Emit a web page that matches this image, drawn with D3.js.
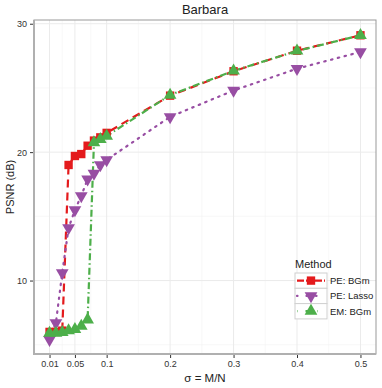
<!DOCTYPE html>
<html>
<head>
<meta charset="utf-8">
<script src="https://cdn.jsdelivr.net/npm/d3@7"></script>
<style>
  body { margin: 0; background: #fff; }
  text { font-family: "Liberation Sans", Arial, sans-serif; }
</style>
</head>
<body>
<svg width="382" height="388"></svg>
<script>
var sigma = [0.01, 0.02, 0.03, 0.04, 0.05, 0.06, 0.07, 0.08, 0.09, 0.1, 0.2, 0.3, 0.4, 0.5];
var peBGm = [6.0, 6.0, 6.1, 19.0, 19.7, 19.85, 20.5, 20.9, 21.15, 21.5, 24.4, 26.3, 27.9, 29.1];
var peLasso = [5.4, 6.7, 10.6, 14.1, 15.5, 16.6, 17.9, 18.35, 19.0, 19.4, 22.75, 24.8, 26.5, 27.8];
var emBGm = [5.9, 5.9, 5.97, 6.1, 6.2, 6.45, 6.95, 20.75, 21.0, 21.25, 24.45, 26.33, 27.88, 29.1];
var xTicks = [0.01, 0.05, 0.1, 0.2, 0.3, 0.4, 0.5];
var xMinor = [0.03, 0.075, 0.15, 0.25, 0.35, 0.45];
var yTicks = [10, 20, 30];
var yMinor = [5, 15, 25];
var methods = ["PE: BGm", "PE: Lasso", "EM: BGm"];

var series = [
  {name: methods[0], values: peBGm, color: "#E41A1C", dash: "8,5", shape: "square"},
  {name: methods[1], values: peLasso, color: "#984EA3", dash: "1.5,5.5", shape: "down"},
  {name: methods[2], values: emBGm, color: "#4DAF4A", dash: "7,3,1.5,3", shape: "up"}
];

var svg = d3.select("svg"),
    pL = 34, pR = 376, pT = 20, pB = 354;

var x = d3.scaleLinear().domain([-0.0145, 0.5245]).range([pL, pR]);
var y = d3.scaleLinear().domain([4.28, 30.29]).range([pB, pT]);

svg.append("rect").attr("x", pL).attr("y", pT)
    .attr("width", pR - pL).attr("height", pB - pT).attr("fill", "#fff");

// grid
var grid = svg.append("g");
grid.selectAll(".xm").data(xMinor).enter().append("line")
    .attr("x1", x).attr("x2", x).attr("y1", pT).attr("y2", pB)
    .attr("stroke", "#f4f4f4").attr("stroke-width", 0.6);
grid.selectAll(".ym").data(yMinor).enter().append("line")
    .attr("y1", y).attr("y2", y).attr("x1", pL).attr("x2", pR)
    .attr("stroke", "#f4f4f4").attr("stroke-width", 0.6);
grid.selectAll(".xM").data(xTicks).enter().append("line")
    .attr("x1", x).attr("x2", x).attr("y1", pT).attr("y2", pB)
    .attr("stroke", "#ebebeb").attr("stroke-width", 1);
grid.selectAll(".yM").data(yTicks).enter().append("line")
    .attr("y1", y).attr("y2", y).attr("x1", pL).attr("x2", pR)
    .attr("stroke", "#ebebeb").attr("stroke-width", 1);

// border
svg.append("rect").attr("x", pL).attr("y", pT)
    .attr("width", pR - pL).attr("height", pB - pT)
    .attr("fill", "none").attr("stroke", "#999").attr("stroke-width", 1);
svg.append("path").attr("d", "M" + pL + "," + pT + "V" + pB + "H" + pR)
    .attr("fill", "none").attr("stroke", "#b0b0b0").attr("stroke-width", 2);

// axes
var xAxis = svg.append("g").attr("transform", "translate(0," + (pB + 1) + ")")
    .call(d3.axisBottom(x).tickValues(xTicks).tickFormat(d3.format("")).tickSize(3).tickPadding(3));
var yAxis = svg.append("g").attr("transform", "translate(" + (pL - 1) + ",0)")
    .call(d3.axisLeft(y).tickValues(yTicks).tickSize(3).tickPadding(3));
[xAxis, yAxis].forEach(function(a) {
  a.select(".domain").remove();
  a.selectAll("line").attr("stroke", "#333");
  a.selectAll("text").attr("fill", "#333").style("font-size", "9px")
      .style("font-family", "'Liberation Sans', Arial, sans-serif");
});

// lines
var line = d3.line()
    .x(function(d, i) { return x(sigma[i]); })
    .y(function(d) { return y(d); });

svg.append("g").selectAll("path").data(series).enter().append("path")
    .attr("d", function(d) { return line(d.values); })
    .attr("fill", "none")
    .attr("stroke", function(d) { return d.color; })
    .attr("stroke-width", 2.2)
    .attr("stroke-linecap", function(d) { return d.shape == "down" ? "round" : "butt"; })
    .attr("stroke-dasharray", function(d) { return d.dash; });

function symbolPath(shape) {
  if (shape == "square") return d3.symbol().type(d3.symbolSquare).size(70)();
  return d3.symbol().type(d3.symbolTriangle).size(70)();
}

// points
series.forEach(function(s) {
  svg.append("g").selectAll("path").data(s.values).enter().append("path")
      .attr("d", symbolPath(s.shape))
      .attr("transform", function(d, i) {
        return "translate(" + x(sigma[i]) + "," + y(d) + ")" + (s.shape == "down" ? " rotate(180)" : "");
      })
      .attr("fill", s.color);
});

// titles
svg.append("text").attr("x", (pL + pR) / 2).attr("y", 14)
    .attr("text-anchor", "middle").style("font-size", "13px").attr("fill", "#222").text("Barbara");
svg.append("text").attr("x", (pL + pR) / 2).attr("y", 382)
    .attr("text-anchor", "middle").style("font-size", "11.5px").attr("fill", "#222").text("σ = M/N");
svg.append("text").attr("transform", "translate(14," + ((pT + pB) / 2) + ") rotate(-90)")
    .attr("text-anchor", "middle").style("font-size", "11px").attr("fill", "#222").text("PSNR (dB)");

// legend
var lg = svg.append("g").attr("transform", "translate(295,270)");
lg.append("text").attr("x", 0).attr("y", -2).style("font-size", "11px").attr("fill", "#222").text("Method");
var key = lg.selectAll("g.key").data(series).enter().append("g")
    .attr("transform", function(d, i) { return "translate(0," + (3 + i * 15.3) + ")"; });
key.append("rect").attr("width", 32).attr("height", 15.3)
    .attr("fill", "#fff").attr("stroke", "#d0d0d0").attr("stroke-width", 1);
key.append("line").attr("x1", 2).attr("x2", 30).attr("y1", 7.6).attr("y2", 7.6)
    .attr("stroke", function(d) { return d.color; }).attr("stroke-width", 2.2)
    .attr("stroke-linecap", function(d) { return d.shape == "down" ? "round" : "butt"; })
    .attr("stroke-dasharray", function(d) { return d.shape == "square" ? "7,2" : d.shape == "down" ? "0.5,9" : "0.5,8,4,8"; });
key.append("path").attr("d", function(d) { return symbolPath(d.shape); })
    .attr("transform", function(d) { return "translate(16,7.6)" + (d.shape == "down" ? " rotate(180)" : ""); })
    .attr("fill", function(d) { return d.color; });
key.append("text").attr("x", 35).attr("y", 11).style("font-size", "9.5px").attr("fill", "#222")
    .text(function(d) { return d.name; });
</script>
</body>
</html>
